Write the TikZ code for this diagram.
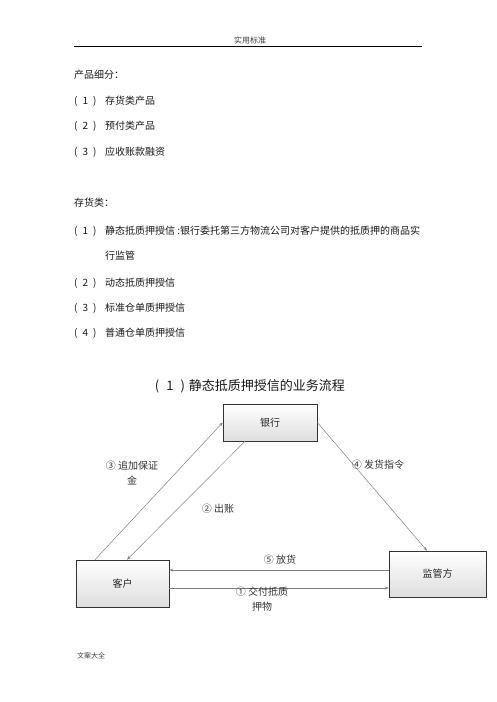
\documentclass[tikz,border=0pt]{standalone}
\usepackage{fontspec}
\setmainfont{Noto Sans CJK SC}
\usetikzlibrary{arrows.meta,calc}
\tikzset{
  box/.style={draw=black!80, line width=0.6pt, top color=white, bottom color=black!13, font=\fontsize{10}{12}\selectfont, text=black!85},
  arr/.style={draw=black!50, line width=0.5pt, -{Stealth[length=4pt,width=3pt]}},
  txt/.style={anchor=west, inner sep=0pt, font=\fontsize{10}{12}\selectfont, text=black!90},
  num/.style={anchor=west, inner sep=0pt, font=\fontsize{10}{12}\selectfont, text=black!90},
  lbl/.style={inner sep=0pt, align=center, font=\fontsize{10}{15}\selectfont, text=black!80}
}
\newcommand{\pnum}[1]{(\hspace{5pt}#1\hspace{5pt})}
\begin{document}
\begin{tikzpicture}[x=1pt,y=-1pt]
\useasboundingbox[fill=white] (0,0) rectangle (496,702);
% header
\node[inner sep=0pt, font=\fontsize{8}{10}\selectfont, text=black!75] (hdr) at (250,40) {实用标准};
\coordinate (hl) at (74,46);
\coordinate (hr) at (422,46);
\draw[line width=0.8pt] (hl) -- (hr);
% body text
\node[txt] (t0) at (74,75) {产品细分：};
\node[num] (n1) at (74,101) {\pnum{1}};
\node[txt] (t1) at (105,101) {存货类产品};
\node[num] (n2) at (74,126) {\pnum{2}};
\node[txt] (t2) at (105,126) {预付类产品};
\node[num] (n3) at (74,152) {\pnum{3}};
\node[txt] (t3) at (105,152) {应收账款融资};
\node[txt] (s0) at (74,203) {存货类：};
\node[num] (m1) at (74,231) {\pnum{1}};
\node[txt] (s1) at (105,231) {静态抵质押授信 :银行委托第三方物流公司对客户提供的抵质押的商品实};
\node[txt] (s1b) at (105,256) {行监管};
\node[num] (m2) at (74,283) {\pnum{2}};
\node[txt] (s2) at (105,283) {动态抵质押授信};
\node[num] (m3) at (74,308) {\pnum{3}};
\node[txt] (s3) at (105,308) {标准仓单质押授信};
\node[num] (m4) at (74,333) {\pnum{4}};
\node[txt] (s4) at (105,333) {普通仓单质押授信};
% title
\node[inner sep=0pt, font=\fontsize{13}{15}\selectfont, text=black!90] (title) at (250,386) {(\hspace{7pt}1\hspace{7pt})\hspace{4pt}静态抵质押授信的业务流程};
% boxes
\node[box, minimum width=94pt, minimum height=37pt] (bank) at (270,422.5) {银行};
\node[box, minimum width=93pt, minimum height=47pt] (cust) at (122.5,583.5) {客户};
\node[box, minimum width=97pt, minimum height=46pt] (sup) at (437.5,574) {监管方};
% connectors
\draw[arr] ([xshift=-27.5pt]cust.north) -- (bank.west);
\draw[arr] ([xshift=-25pt]bank.south) -- ([xshift=4.5pt]cust.north);
\draw[arr] (bank.east) -- ([xshift=-10.5pt]sup.north);
\draw[arr] ([yshift=4pt]sup.west) -- ([yshift=4pt]sup.west -| cust.east);
\draw[arr] ([yshift=-4.5pt]cust.east) -- ([yshift=-4.5pt]cust.east -| sup.west);
% labels
\node[lbl] (l3) at (132,473) {③ 追加保证\\金};
\node[lbl] (l4) at (378,465) {④ 发货指令};
\node[lbl] (l2) at (218,509) {② 出账};
\node[lbl] (l5) at (280,560) {⑤ 放货};
\node[lbl] (l1) at (262,599) {① 交付抵质\\押物};
% footer
\node[inner sep=0pt, font=\fontsize{7}{9}\selectfont, text=black!75] (ftr) at (91,656) {文案大全};
\end{tikzpicture}
\end{document}
